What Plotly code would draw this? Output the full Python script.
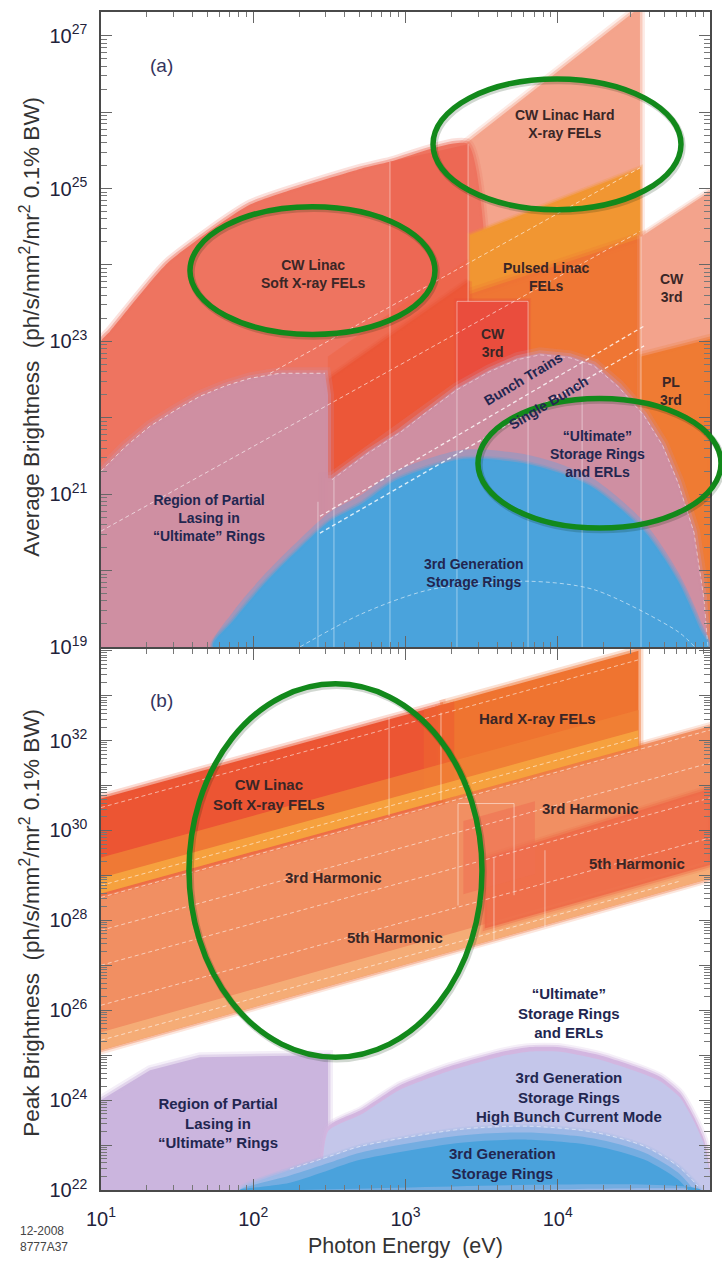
import numpy as np
import plotly.graph_objects as go

# All region boundaries are given as (log10 photon energy [eV], log10 brightness) pairs.

# ---------------- panel (a): average brightness ----------------
HARD_CW_E = [3.34, 4.50, 4.54, 4.54, 3.34]
HARD_CW_B = [25.50, 27.31, 27.31, 19.0, 19.0]

SOFT_CW_E = [1.0, 1.059, 1.434, 1.979, 2.708, 2.898, 3.411, 3.411, 1.0]
SOFT_CW_B = [23.0, 23.13, 24.02, 24.79, 25.26, 25.35, 25.58, 19.0, 19.0]

SOFT_STRIP_E = [2.898, 3.411, 3.411, 2.898]
SOFT_STRIP_B = [25.35, 25.58, 19.0, 19.0]

PULSED_E = [3.424, 3.424, 4.54, 4.54]
PULSED_B = [19.0, 24.39, 25.26, 19.0]
PULSED_LOW_B = [19.0, 23.62, 24.35, 19.0]

SOFT_RED_E = [2.49, 2.49, 3.411, 3.411]
SOFT_RED_B = [19.0, 22.50, 23.78, 19.0]

CW3_BOX_E = [3.338, 3.338, 3.805, 3.805]
CW3_BOX_B = [19.0, 23.523, 23.523, 19.0]

CW3_HARD_E = [4.547, 4.547, 5.0, 5.0]
CW3_HARD_B = [19.0, 24.37, 24.96, 19.0]

PL3_E = [4.547, 4.547, 5.0, 5.0]
PL3_B = [19.0, 22.80, 23.03, 19.0]

PARTIAL_A_E = [1.0, 1.0, 1.16, 1.322, 1.49, 1.650, 1.82, 1.979, 2.176, 2.471, 2.491, 2.491]
PARTIAL_A_B = [19.0, 21.30, 21.62, 21.889, 22.10, 22.281, 22.42, 22.516, 22.582, 22.582, 22.3, 19.0]

ULT_E = [2.471, 2.471, 2.517, 2.75, 2.964, 3.15, 3.338, 3.55, 3.732, 3.883, 4.080, 4.238,
         4.40, 4.567, 4.69, 4.790, 4.895, 4.961, 4.987]
ULT_B = [19.0, 21.209, 21.209, 21.55, 21.824, 22.11, 22.386, 22.62, 22.778, 22.843, 22.804,
         22.699, 22.42, 22.046, 21.65, 21.17, 20.516, 19.641, 19.0]

GEN3_E = [1.736, 1.867, 2.090, 2.307, 2.504, 2.708, 2.924, 3.161, 3.365, 3.555, 3.805,
          4.015, 4.238, 4.567, 4.790, 4.941, 4.987]
GEN3_B = [19.0, 19.340, 19.863, 20.294, 20.647, 20.869, 21.17, 21.353, 21.458, 21.458,
          21.392, 21.275, 21.078, 20.516, 19.863, 19.209, 19.0]

GEN3_INNER_E = [2.307, 2.708, 3.161, 3.805, 4.238, 4.790, 4.90]
GEN3_INNER_B = [19.0, 19.43, 19.75, 19.86, 19.75, 19.2, 19.0]

BUNCH_TRAINS_E, BUNCH_TRAINS_B = [2.438, 4.567], [20.71, 23.20]
SINGLE_BUNCH_E, SINGLE_BUNCH_B = [2.438, 4.567], [20.49, 22.94]
DIAG_A = [([1.0, 4.54], [20.516, 24.438]), ([2.11, 4.54], [22.58, 25.27])]

VLINES_A = [(2.425, 19.0, 20.9), (2.530, 19.0, 21.2), (2.898, 19.0, 25.35),
            (3.338, 19.0, 23.523), (3.411, 23.523, 25.58), (3.805, 19.0, 23.523),
            (4.16, 19.0, 22.74), (4.547, 19.0, 24.37)]

# ---------------- panel (b): peak brightness ----------------
FUND_TOP = ([1.0, 4.53], [30.71, 34.0])
FUND_BOT = ([1.0, 5.0], [28.60, 32.32])
HARM_BOT = ([1.0, 5.0], [25.11, 28.93])
H5_TOP = ([3.52, 5.0], [29.38, 30.93])
SOFT_END = 3.23
HARD_END = 4.53

PARTIAL_B_E = [1.0, 1.0, 1.322, 1.650, 2.491, 2.491]
PARTIAL_B_B = [22.0, 24.0, 24.667, 24.956, 25.0, 22.0]

HBC_E = [2.491, 2.491, 2.708, 2.964, 3.292, 3.621, 3.805, 4.015, 4.277, 4.540, 4.678,
         4.803, 4.895, 4.961, 4.987, 5.0]
HBC_B = [22.0, 23.40, 23.778, 24.333, 24.756, 25.067, 25.178, 25.178, 25.0, 24.711,
         24.511, 24.156, 23.622, 23.111, 22.667, 22.0]

GEN3B_E = [1.913, 2.241, 2.504, 2.708, 3.365, 3.805, 4.238, 4.567, 4.790, 4.921, 4.94]
GEN3B_B = [22.0, 22.444, 22.733, 22.956, 23.333, 23.4, 23.267, 22.956, 22.511, 22.067, 22.0]

DASH_B = [(30.511, 1.0, 4.53), (28.778, 1.0, 4.53), (28.511, 1.0, 5.0),
          (27.778, 1.0, 5.0), (27.0, 1.0, 5.0), (26.111, 1.0, 5.0), (25.333, 1.0, 4.8)]
DASH_SLOPE = 0.931

VLINES_B = [(2.892, 30.33, 32.51), (3.233, 30.67, 32.62), (3.345, 28.33, 30.6),
            (3.713, 28.56, 30.6), (3.581, 27.56, 29.4), (3.916, 27.84, 29.56)]

FONT = "Liberation Sans, Arial, Helvetica, sans-serif"

fig = go.Figure()


def rgba(h, a):
    h = h.lstrip("#")
    return "rgba(%d,%d,%d,%.3f)" % (int(h[0:2], 16), int(h[2:4], 16), int(h[4:6], 16), a)


def axes(panel):
    return ("x", "y") if panel == "a" else ("x2", "y2")


def pw(v):
    return 10.0 ** v


def area(e, b, color, panel, opacity=1.0, soft=0, smooth=0.0):
    xa, ya = axes(panel)
    xs = [pw(v) for v in e] + [pw(e[0])]
    ys = [pw(v) for v in b] + [pw(b[0])]
    shape = dict(shape="spline", smoothing=smooth) if smooth else dict(shape="linear")
    if soft:
        fig.add_trace(go.Scatter(x=xs, y=ys, mode="lines",
                                 line=dict(color=rgba(color, 0.22 * opacity), width=soft * 2, **shape),
                                 xaxis=xa, yaxis=ya, hoverinfo="skip", showlegend=False))
    fig.add_trace(go.Scatter(x=xs, y=ys, mode="lines", fill="toself",
                             fillcolor=rgba(color, opacity),
                             line=dict(color=rgba(color, 0.45 * opacity if soft else 0),
                                       width=soft if soft else 0, **shape),
                             xaxis=xa, yaxis=ya, hoverinfo="skip", showlegend=False))


def at(line, e):
    return float(np.interp(e, line[0], line[1]))


def band(e0, e1, upper, lower, du=0.0, dl=0.0):
    return ([e0, e1, e1, e0],
            [at(upper, e0) + du, at(upper, e1) + du, at(lower, e1) + dl, at(lower, e0) + dl])


def dashed(e, b, panel, opacity=0.6, width=1.0, smooth=0.0):
    xa, ya = axes(panel)
    shape = dict(shape="spline", smoothing=smooth) if smooth else dict(shape="linear")
    fig.add_trace(go.Scatter(x=[pw(v) for v in e], y=[pw(v) for v in b], mode="lines",
                             line=dict(color=rgba("#ffffff", opacity), width=width,
                                       dash="4px,3px", **shape),
                             xaxis=xa, yaxis=ya, hoverinfo="skip", showlegend=False))


def solid(e, b, panel, opacity=0.5):
    xa, ya = axes(panel)
    fig.add_trace(go.Scatter(x=[pw(v) for v in e], y=[pw(v) for v in b], mode="lines",
                             line=dict(color=rgba("#ffffff", opacity), width=1),
                             xaxis=xa, yaxis=ya, hoverinfo="skip", showlegend=False))


# ---------------- panel (a) ----------------
area(HARD_CW_E, HARD_CW_B, "#F4A48C", "a", soft=5)
area(SOFT_CW_E, SOFT_CW_B, "#EE7460", "a", soft=5, smooth=0.5)
area(SOFT_STRIP_E, SOFT_STRIP_B, "#EC604C", "a", opacity=0.6)
area(PULSED_E, PULSED_B, "#F19632", "a", soft=3)
area(PULSED_E, PULSED_LOW_B, "#EE7234", "a", opacity=0.9, soft=6)
area(SOFT_RED_E, [v + 0.3 if 0 < i < 3 else v for i, v in enumerate(SOFT_RED_B)], "#EE6446", "a", opacity=0.55)
area(SOFT_RED_E, SOFT_RED_B, "#EC5738", "a", soft=4)
area(CW3_BOX_E, CW3_BOX_B, "#EA4D3D", "a", soft=3)
area(CW3_HARD_E, CW3_HARD_B, "#F3A38C", "a", soft=4)
area(PL3_E, PL3_B, "#EF7B33", "a", soft=5)
area(PARTIAL_A_E, PARTIAL_A_B, "#CF8FA2", "a", soft=6)
area(ULT_E, ULT_B, "#CF8FA2", "a", soft=6)
area(GEN3_E, [v + 0.12 if v > 19.0 else v for v in GEN3_B], "#9C96BE", "a", opacity=0.8, smooth=0.8)
area(GEN3_E, GEN3_B, "#4AA3DC", "a", soft=3, smooth=0.8)

for e, b in DIAG_A:
    dashed(e, b, "a")
dashed(BUNCH_TRAINS_E, BUNCH_TRAINS_B, "a", opacity=0.8, width=1.3)
dashed(SINGLE_BUNCH_E, SINGLE_BUNCH_B, "a", opacity=0.8, width=1.3)
dashed(PARTIAL_A_E[1:10], PARTIAL_A_B[1:10], "a", opacity=0.6)
dashed(GEN3_INNER_E, GEN3_INNER_B, "a", opacity=0.55, smooth=0.8)
dashed(ULT_E[2:], [v - 0.02 for v in ULT_B[2:]], "a", opacity=0.45)
for e, b0, b1 in VLINES_A:
    solid([e, e], [b0, b1], "a", opacity=0.45)
solid([3.338, 3.805], [23.523, 23.523], "a", opacity=0.45)

# ---------------- panel (b) ----------------
area(*band(1.0, 5.0, FUND_BOT, HARM_BOT), "#F18F62", "b", soft=4)
area(*band(1.0, 5.0, HARM_BOT, HARM_BOT, du=0.4), "#F6B27A", "b", opacity=0.85)
area(*band(3.52, 5.0, H5_TOP, HARM_BOT, dl=0.3), "#EE6B49", "b", opacity=0.9, soft=4)
area(*band(3.38, 3.85, FUND_BOT, HARM_BOT, du=-0.6, dl=1.2), "#EE7052", "b", opacity=0.55)
area(*band(1.0, SOFT_END, FUND_TOP, FUND_BOT), "#EC5533", "b", soft=5)
area(*band(SOFT_END, HARD_END, FUND_TOP, FUND_BOT), "#EF7430", "b", soft=5)
area(*band(3.12, 3.32, FUND_TOP, FUND_BOT), "#ED6231", "b", opacity=0.8)
area(*band(1.0, HARD_END, FUND_BOT, FUND_BOT, du=0.8), "#F08236", "b", opacity=0.8)
area(*band(1.0, HARD_END, FUND_BOT, FUND_BOT, du=0.35), "#F6A53F", "b", opacity=0.9)

area(PARTIAL_B_E, PARTIAL_B_B, "#CBB5DE", "b", soft=5)
area(HBC_E, HBC_B, "#D3B6E0", "b", soft=4, smooth=0.6)
area(HBC_E, [v - 0.1 if v > 22.0 else v for v in HBC_B], "#C4C6EA", "b", smooth=0.6)
area(GEN3B_E, GEN3B_B, "#9DB9E6", "b", soft=3, smooth=0.8)
area(GEN3B_E, [v - 0.12 if v > 22.0 else v for v in GEN3B_B], "#74ADE1", "b", smooth=0.8)
area(GEN3B_E, [v - 0.28 if v > 22.0 else v for v in GEN3B_B], "#4AA2DC", "b", smooth=0.8)

for b0, e0, e1 in DASH_B:
    dashed([e0, e1], [b0, b0 + DASH_SLOPE * (e1 - e0)], "b", opacity=0.55)
dashed(GEN3B_E[1:-1], [v + 0.02 for v in GEN3B_B[1:-1]], "b", opacity=0.5, smooth=0.8)
for e, b0, b1 in VLINES_B:
    solid([e, e], [b0, b1], "b", opacity=0.5)
solid([3.345, 3.713], [30.6, 30.6], "b", opacity=0.5)

# ---------------- axes ----------------
line_col = "#4a4a4a"
tick_font = dict(family=FONT, size=20, color="#22223a")
x_major = [pw(k) for k in range(1, 6)]
x_minor = [m * pw(k) for k in range(1, 5) for m in range(2, 10)]


def y_ticks(lo, hi, labelled):
    vals = [pw(k) for k in range(lo, hi + 1)]
    text = ["10<sup>%d</sup>" % k if k in labelled else "" for k in range(lo, hi + 1)]
    minor = [m * pw(k) for k in range(lo, hi) for m in range(2, 10)]
    return vals, text, minor


common = dict(showgrid=False, zeroline=False, showline=True, linecolor=line_col, linewidth=1.5,
              mirror="allticks", ticks="inside", ticklen=11, tickwidth=1.2, tickcolor="#666",
              tickfont=tick_font)
minor_x = dict(tickvals=x_minor, ticks="inside", ticklen=5, tickwidth=1, tickcolor="#777", showgrid=False)

ya_vals, ya_text, ya_minor = y_ticks(19, 27, [19, 21, 23, 25, 27])
yb_vals, yb_text, yb_minor = y_ticks(22, 34, [22, 24, 26, 28, 30, 32])

fig.update_layout(
    width=722, height=1262,
    margin=dict(l=101, r=12, t=10, b=72),
    paper_bgcolor="white", plot_bgcolor="white", showlegend=False,
    font=dict(family=FONT, color="#222"),
    xaxis=dict(type="log", range=[1, 5], domain=[0, 1], anchor="y", tickvals=x_major,
               showticklabels=False, minor=minor_x, **common),
    yaxis=dict(type="log", range=[19, 27.31], domain=[0.4610, 1.0], anchor="x",
               tickvals=ya_vals, ticktext=ya_text, ticklabelstandoff=8,
               minor=dict(tickvals=ya_minor, ticks="inside", ticklen=6, tickcolor="#777", showgrid=False),
               **common),
    xaxis2=dict(type="log", range=[1, 5], domain=[0, 1], anchor="y2", tickvals=x_major,
                ticktext=["10<sup>%d</sup>" % k for k in range(1, 6)], ticklabelstandoff=10,
                minor=minor_x, **common),
    yaxis2=dict(type="log", range=[22, 34.04], domain=[0.0, 0.4593], anchor="x2",
                tickvals=yb_vals, ticktext=yb_text, ticklabelstandoff=8,
                minor=dict(tickvals=yb_minor, ticks="inside", ticklen=6, tickcolor="#777", showgrid=False),
                **common),
)

# ---------------- labels ----------------
DARK = "#3a2626"
NAVY = "#222650"
LABELS_A = [
    ("CW Linac Hard<br>X-ray FELs", 4.048, 25.85, DARK, 0),
    ("CW Linac<br>Soft X-ray FELs", 2.392, 23.876, DARK, 0),
    ("Pulsed Linac<br>FELs", 3.923, 23.837, DARK, 0),
    ("CW<br>3rd", 4.750, 23.693, DARK, 0),
    ("CW<br>3rd", 3.575, 22.974, DARK, 0),
    ("PL<br>3rd", 4.744, 22.346, DARK, 0),
    ("Bunch Trains", 3.772, 22.503, NAVY, -31),
    ("Single Bunch", 3.936, 22.19, NAVY, -31),
    ("“Ultimate”<br>Storage Rings<br>and ERLs", 4.258, 21.523, NAVY, 0),
    ("Region of Partial<br>Lasing in<br>“Ultimate” Rings", 1.709, 20.686, NAVY, 0),
    ("3rd Generation<br>Storage Rings", 3.450, 19.967, NAVY, 0),
]
LABELS_B = [
    ("Hard X-ray FELs", 3.870, 32.489, DARK, 0),
    ("CW Linac<br>Soft X-ray FELs", 2.104, 30.80, DARK, 0),
    ("3rd Harmonic", 4.212, 30.489, DARK, 0),
    ("3rd Harmonic", 2.530, 28.956, DARK, 0),
    ("5th Harmonic", 4.521, 29.267, DARK, 0),
    ("5th Harmonic", 2.931, 27.622, DARK, 0),
    ("“Ultimate”<br>Storage Rings<br>and ERLs", 4.074, 25.933, NAVY, 0),
    ("3rd Generation<br>Storage Rings<br>High Bunch Current Mode", 4.074, 24.067, NAVY, 0),
    ("3rd Generation<br>Storage Rings", 3.640, 22.6, NAVY, 0),
    ("Region of Partial<br>Lasing in<br>“Ultimate” Rings", 1.768, 23.489, NAVY, 0),
]
for labels, xr, yr, size in ((LABELS_A, "x", "y", 14), (LABELS_B, "x2", "y2", 15)):
    for text, lx, ly, col, ang in labels:
        fig.add_annotation(text="<b>%s</b>" % text, x=lx, y=ly, xref=xr, yref=yr,
                           showarrow=False, textangle=ang, xanchor="center", yanchor="middle",
                           font=dict(family=FONT, size=size, color=col))

fig.add_annotation(text="(a)", x=1.40, y=26.61, xref="x", yref="y", showarrow=False,
                   font=dict(family=FONT, size=19, color="#34345e"))
fig.add_annotation(text="(b)", x=1.40, y=32.89, xref="x2", yref="y2", showarrow=False,
                   font=dict(family=FONT, size=19, color="#34345e"))

title_font = dict(family=FONT, size=22.5, color="#333")
fig.add_annotation(text="Average Brightness  (ph/s/mm<sup>2</sup>/mr<sup>2</sup> 0.1% BW)",
                   x=-0.118, y=0.733, xref="paper", yref="paper", textangle=-90,
                   xanchor="center", yanchor="middle", showarrow=False, font=title_font)
fig.add_annotation(text="Peak Brightness  (ph/s/mm<sup>2</sup>/mr<sup>2</sup> 0.1% BW)",
                   x=-0.118, y=0.227, xref="paper", yref="paper", textangle=-90,
                   xanchor="center", yanchor="middle", showarrow=False, font=title_font)
fig.add_annotation(text="Photon Energy  (eV)", x=0.5, y=-0.0475, xref="paper", yref="paper",
                   xanchor="center", yanchor="middle", showarrow=False,
                   font=dict(family=FONT, size=21.5, color="#333"))
fig.add_annotation(text="12-2008<br>8777A37", x=-0.136, y=-0.0415, xref="paper", yref="paper",
                   xanchor="left", yanchor="middle", align="left", showarrow=False,
                   font=dict(family=FONT, size=12, color="#444"))

# ---------------- highlight ellipses (paper coordinates) ----------------
ELLIPSES = [(0.1461, 0.7263, 0.5484, 0.8347),
            (0.5452, 0.8322, 0.9524, 0.9432),
            (0.6190, 0.5619, 1.0181, 0.6720),
            (0.1445, 0.1127, 0.6256, 0.4297)]
for x0, y0, x1, y1 in ELLIPSES:
    fig.add_shape(type="circle", xref="paper", yref="paper",
                  x0=x0 + 0.002, x1=x1 + 0.002, y0=y0 - 0.0015, y1=y1 - 0.0015,
                  line=dict(color="rgba(0,40,0,0.18)", width=7), layer="above")
    fig.add_shape(type="circle", xref="paper", yref="paper", x0=x0, x1=x1, y0=y0, y1=y1,
                  line=dict(color="#12891b", width=5.5), layer="above")

fig.write_html("out.html")
